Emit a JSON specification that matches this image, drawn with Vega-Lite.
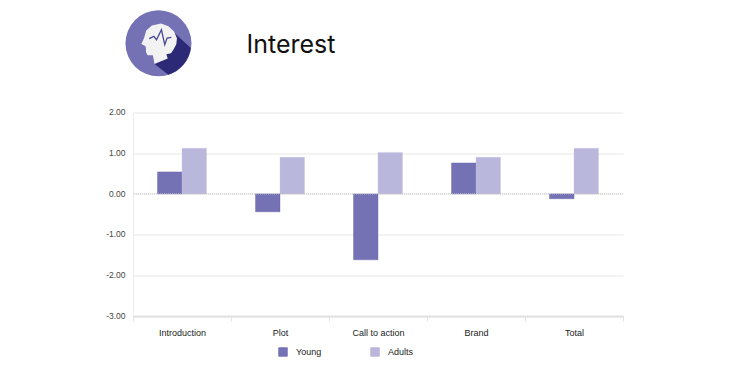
{
"$schema":"https://vega.github.io/schema/vega-lite/v6.json",
"width":490,"height":203.5,
"autosize":{"type":"none"},
"padding":{"left":133,"top":112.5,"right":123,"bottom":59},
"background":"white",
"title":{"text":"Interest","anchor":"start","frame":"group","dx":113.5,"offset":-48,"font":"Inter","fontSize":25,"fontWeight":400,"color":"#111111"},
"config":{"view":{"stroke":null},"font":"Liberation Sans"},
"resolve":{"scale":{"x":"independent"}},
"encoding":{"y":{"field":"score","type":"quantitative","scale":{"domain":[-3,2],"nice":false,"zero":false},"axis":{"title":null,"values":[-3,-2,-1,0,1,2],"labelExpr":"replace(format(datum.value,'.2f'),'−','-')","labelColor":"#444444","labelFontSize":8.5,"labelPadding":8,"labelOffset":-0.8,"ticks":false,"domainColor":"#d8d8d8","domainDash":[1,1],"gridColor":"#e8e8e8","gridWidth":1.2}}},
"layer":[
{"data":{"values":[
{"section":"Introduction","group":"Young","score":0.54},
{"section":"Introduction","group":"Adults","score":1.12},
{"section":"Plot","group":"Young","score":-0.44},
{"section":"Plot","group":"Adults","score":0.90},
{"section":"Call to action","group":"Young","score":-1.62},
{"section":"Call to action","group":"Adults","score":1.02},
{"section":"Brand","group":"Young","score":0.76},
{"section":"Brand","group":"Adults","score":0.90},
{"section":"Total","group":"Young","score":-0.12},
{"section":"Total","group":"Adults","score":1.12}
]},
"mark":{"type":"bar","strokeWidth":1,"strokeOpacity":0.35},
"encoding":{
"x":{"field":"section","type":"nominal","sort":["Introduction","Plot","Call to action","Brand","Total"],"scale":{"paddingInner":0,"paddingOuter":0},"axis":{"title":null,"labelAngle":0,"labelColor":"#222222","labelFontSize":9,"labelPadding":7,"domainColor":"#e2e2e2","domainWidth":2,"tickColor":"#e2e2e2","tickSize":5,"tickBand":"extent","grid":false}},
"xOffset":{"field":"group","type":"nominal","sort":["Young","Adults"],"scale":{"paddingInner":0,"paddingOuter":1}},
"color":{"field":"group","type":"nominal","scale":{"domain":["Young","Adults"],"range":["#7571B5","#B9B7DB"]},"legend":{"title":null,"orient":"none","legendX":145,"legendY":234.5,"direction":"horizontal","symbolType":"M-.8 -1H.8Q1 -1 1 -.8V.8Q1 1 .8 1H-.8Q-1 1 -1 .8V-.8Q-1 -1 -.8 -1Z","symbolSize":90,"symbolStrokeWidth":0,"labelFontSize":9,"labelColor":"#222222","labelOffset":8,"columnPadding":48}},
"stroke":{"field":"group","type":"nominal","scale":{"domain":["Young","Adults"],"range":["#5f5ba8","#c8c6e4"]},"legend":null}
}},
{"data":{"values":[{"score":0}]},"mark":{"type":"rule","color":"#c8c8c8","strokeDash":[1,1],"strokeWidth":1},"encoding":{}},
{"data":{"values":[{"px":0.052,"score":3.7}]},
"encoding":{"x":{"field":"px","type":"quantitative","scale":{"domain":[0,1]},"axis":null}},
"layer":[
{"mark":{"type":"point","filled":true,"opacity":1,"size":4356,"shape":"circle","color":"#7571B5","strokeWidth":0}},
{"mark":{"type":"point","filled":true,"opacity":1,"size":4356,"shape":"M.5 -.3L.98 .14A1 1 0 0 1 .30 .95L-.12 .63Z","color":"#2C2A76","strokeWidth":0}},
{"mark":{"type":"point","filled":true,"opacity":1,"size":4356,"shape":"M-.37 -.39L-.2 -.54L.08 -.6L.3 -.52L.47 -.36L.56 -.15L.54 .03L.46 .18L.38 .3L.24 .33L.28 .46L-.12 .63L-.17 .36L-.33 .36L-.38 .26L-.38 .14L-.4 .08L-.52 .02L-.44 -.15Z","color":"#F2F2F2","strokeWidth":0}},
{"mark":{"type":"point","filled":false,"opacity":1,"size":4356,"shape":"M-.28 -.14L-.14 -.21L-.06 -.11L.09 -.41L.19 .04L.26 -.16L.39 -.18","color":"#4A4795","strokeWidth":1.3}}
]}
]
}
